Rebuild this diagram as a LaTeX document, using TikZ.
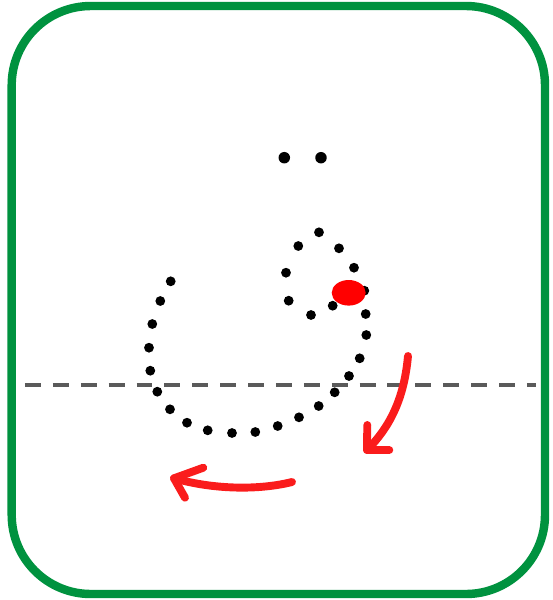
\documentclass[tikz,border=0pt]{standalone}
\usepackage{tikz}
\usetikzlibrary{calc}
\definecolor{frame}{RGB}{0,146,63}
\definecolor{guide}{RGB}{90,90,90}
\definecolor{arrowred}{RGB}{250,28,28}
\definecolor{startred}{RGB}{255,0,0}
\tikzset{
  dotpt/.style={fill=black},
  baseline guide/.style={draw=guide, line width=2.7pt, dash pattern=on 9.07pt off 6.8pt},
  dirarrow/.style={draw=arrowred, line width=4.5pt, line cap=round, line join=round}
}

\begin{document}
\begin{tikzpicture}[x=0.02cm, y=-0.02cm]
  \useasboundingbox (0,0) rectangle (553,600);

  % ---------- frame ----------
  \draw[frame, line width=4.8pt, rounded corners=45] (11.7,6) rectangle (545,594);

  % ---------- base line ----------
  \draw[baseline guide] (25,385) -- (536,385);

  % ---------- two dots above ----------
  \foreach \x/\y in {284.3/157.7, 321/157.7}{
    \fill[dotpt] (\x,\y) circle (0.115cm);
  }

  % ---------- dotted letter body ----------
  \foreach \x/\y in {319/232.3, 298.3/246, 339/248.3, 354/267.7, 286/272.7,
                     364.3/290.7, 288.7/300.7, 332.7/305.7, 311/315, 365.7/314,
                     366.3/335, 359.7/358.3, 349/376, 334.7/392.3, 318.7/406,
                     299/417.3, 277.7/426, 255.3/432, 232/433, 207.7/430.3,
                     187/422.7, 170/409.3, 157.3/391.7, 150.3/370.7, 149/347.7,
                     152.3/324, 160.3/301, 170.7/281.3}{
    \fill[dotpt] (\x,\y) circle (0.098cm);
  }

  % ---------- starting point ----------
  \fill[startred] (348.7,292.8) ellipse (0.34cm and 0.256cm);

  % ---------- direction arrows ----------
  \coordinate (down start) at (408,356);
  \coordinate (down tip)   at (367,450);
  \draw[dirarrow] (down start) .. controls (404,400) and (389,428) .. (down tip);
  \draw[dirarrow] (367.3,425) -- (down tip) -- (389.3,450);

  \coordinate (left start) at (292,482);
  \coordinate (left tip)   at (174,478.3);
  \draw[dirarrow] (left start) .. controls (260,490) and (215,490) .. (left tip);
  \draw[dirarrow] (203.3,467.7) -- (left tip) -- (185,497.7);

\end{tikzpicture}
\end{document}
